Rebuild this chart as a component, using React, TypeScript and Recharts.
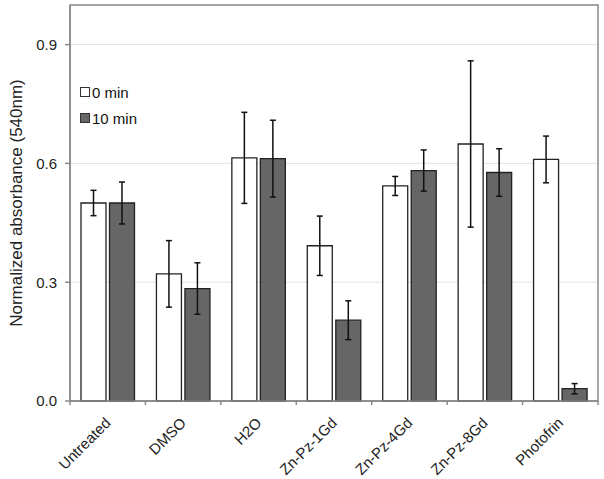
import React from 'react';
import {
  BarChart, Bar, XAxis, YAxis, CartesianGrid, ErrorBar, Legend, ReferenceArea,
} from 'recharts';

const categories = ['Untreated', 'DMSO', 'H2O', 'Zn-Pz-1Gd', 'Zn-Pz-4Gd', 'Zn-Pz-8Gd', 'Photofrin'];
const min0 = [0.50, 0.321, 0.614, 0.392, 0.543, 0.649, 0.610];
const min0Err = [0.032, 0.084, 0.115, 0.075, 0.024, 0.21, 0.059];
const min10 = [0.50, 0.284, 0.612, 0.204, 0.582, 0.577, 0.031];
const min10Err = [0.053, 0.065, 0.097, 0.049, 0.052, 0.06, 0.013];
const yTicks = [0, 0.3, 0.6, 0.9];

// bars sit at the middle of each slot, tick marks at the slot borders
const data = categories.map((name, i) => ({
  pos: i + 0.5,
  name,
  min0: min0[i],
  min0Err: min0Err[i],
  min10: min10[i],
  min10Err: min10Err[i],
}));
const xTicks: number[] = [];
for (let i = 0; i <= categories.length; i++) {
  xTicks.push(i);
  if (i < categories.length) xTicks.push(i + 0.5);
}

const FONT = 'Arial, "Liberation Sans", sans-serif';
const AXIS = '#8a8a8a';

const XTick = ({ x, y, payload }: any) => {
  const v = payload.value;
  if (Number.isInteger(v)) {
    return <line x1={x} y1={y} x2={x} y2={y + 4} stroke={AXIS} strokeWidth={1.5} />;
  }
  const label = categories[Math.floor(v)];
  const tx = x - 4;
  const ty = y + 15;
  return (
    <text
      x={tx}
      y={ty}
      transform={`rotate(-45, ${tx}, ${ty})`}
      textAnchor="end"
      dominantBaseline="hanging"
      fontSize={15}
      fontFamily={FONT}
      fill="#222"
    >
      {label}
    </text>
  );
};

const LegendBox = ({ payload }: any) => (
  <div style={{ fontFamily: FONT, fontSize: 15, color: '#111' }}>
    {payload.map((entry: any, i: number) => (
      <div key={i} style={{ display: 'flex', alignItems: 'center', height: 26 }}>
        <span
          style={{
            display: 'inline-block',
            width: 8,
            height: 8,
            border: '1px solid #333',
            background: entry.payload.fill,
            marginRight: 2,
          }}
        />
        {entry.value}
      </div>
    ))}
  </div>
);

const YLabel = ({ viewBox }: any) => {
  const cx = viewBox.x + 16;
  const cy = viewBox.y + viewBox.height / 2;
  return (
    <text
      x={cx}
      y={cy}
      transform={`rotate(-90, ${cx}, ${cy})`}
      textAnchor="middle"
      dominantBaseline="central"
      fontSize={17}
      fontFamily={FONT}
      fill="#222"
    >
      Normalized absorbance (540nm)
    </text>
  );
};

export default function App() {
  return (
    <div style={{ position: 'absolute', left: 0, top: 0, background: '#fff' }}>
      <BarChart
        width={604}
        height={479}
        data={data}
        margin={{ top: 5, right: 6, left: 0, bottom: 0 }}
        barCategoryGap={11}
        barGap={3.5}
      >
        <CartesianGrid vertical={false} stroke="#e2e2e2" strokeWidth={1} />
        <XAxis
          dataKey="pos"
          type="number"
          domain={[0, categories.length]}
          ticks={xTicks}
          interval={0}
          tickLine={false}
          tickSize={0}
          tickMargin={0}
          tick={<XTick />}
          height={78}
          stroke={AXIS}
          strokeWidth={1.5}
        />
        <YAxis
          domain={[0, 1]}
          ticks={yTicks}
          tickFormatter={(v: number) => v.toFixed(1)}
          width={70}
          tickSize={5}
          tickMargin={8}
          stroke={AXIS}
          strokeWidth={1.5}
          tick={{ fontSize: 15, fontFamily: FONT, fill: '#222' }}
          label={<YLabel />}
        />
        <ReferenceArea
          x1={0}
          x2={categories.length}
          y1={0}
          y2={1}
          fill="none"
          stroke={AXIS}
          strokeWidth={1.5}
          ifOverflow="visible"
        />
        <Legend
          layout="horizontal"
          verticalAlign="middle"
          align="center"
          content={<LegendBox />}
          wrapperStyle={{ position: 'absolute', left: 80, top: 79, width: 'auto', height: 'auto' }}
        />
        <Bar dataKey="min0" name="0 min" fill="#ffffff" stroke="#222" strokeWidth={1.3} isAnimationActive={false}>
          <ErrorBar dataKey="min0Err" width={3} stroke="#111" strokeWidth={1.5} direction="y" />
        </Bar>
        <Bar dataKey="min10" name="10 min" fill="#666666" stroke="#222" strokeWidth={1.3} isAnimationActive={false}>
          <ErrorBar dataKey="min10Err" width={3} stroke="#111" strokeWidth={1.5} direction="y" />
        </Bar>
      </BarChart>
    </div>
  );
}
